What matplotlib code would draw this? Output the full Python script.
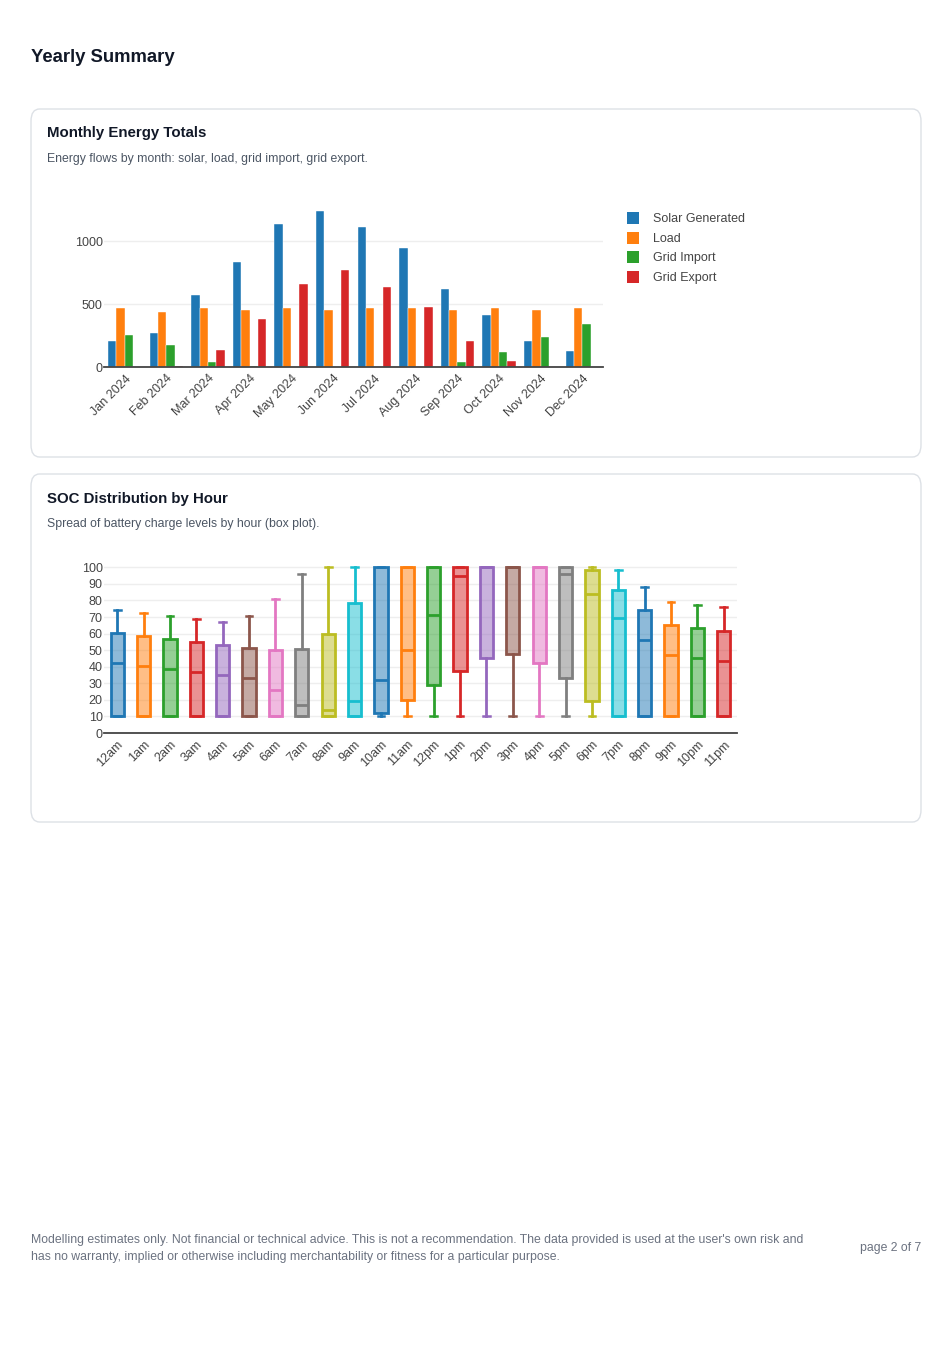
import matplotlib.pyplot as plt
from matplotlib.colors import to_rgb
from matplotlib.patches import FancyBboxPatch, Rectangle

plt.rcParams['font.family'] = ['Liberation Sans', 'DejaVu Sans']

# monthly energy totals
months = ["Jan 2024", "Feb 2024", "Mar 2024", "Apr 2024", "May 2024", "Jun 2024",
          "Jul 2024", "Aug 2024", "Sep 2024", "Oct 2024", "Nov 2024", "Dec 2024"]
solar = [209, 270, 569, 836, 1135, 1238, 1111, 947, 622, 410, 209, 124]
load = [468, 436, 468, 452, 468, 452, 468, 468, 452, 468, 452, 468]
grid_import = [254, 177, 42, 10, 0, 0, 0, 0, 37, 119, 241, 341]
grid_export = [0, 10, 135, 381, 656, 772, 635, 476, 204, 50, 0, 0]
series_names = ["Solar Generated", "Load", "Grid Import", "Grid Export"]

# SOC box stats per hour
hours = ["12am", "1am", "2am", "3am", "4am", "5am", "6am", "7am", "8am", "9am", "10am", "11am",
         "12pm", "1pm", "2pm", "3pm", "4pm", "5pm", "6pm", "7pm", "8pm", "9pm", "10pm", "11pm"]
soc_min = [10, 10, 10, 10, 10, 10, 10, 10, 10, 10, 10, 10,
           10, 10, 10, 10, 10, 10, 10, 10, 10, 10, 10, 10]
soc_q1 = [10, 10, 10, 10, 10, 10, 10, 10, 10, 10, 12.3, 19.8,
          28.9, 37.7, 45.5, 47.6, 42.5, 33.2, 19.2, 10, 10, 10, 10, 10]
soc_med = [42.1, 40.3, 38.5, 36.8, 35, 33.2, 25.9, 16.8, 13.8, 19.2, 32.2, 49.8,
           71.5, 94.5, 100, 100, 100, 95.7, 84, 69.6, 55.9, 47.2, 45.3, 43.7]
soc_q3 = [60.1, 58.3, 56.5, 54.9, 53.2, 51.6, 49.8, 50.8, 59.5, 78.7, 100, 100,
          100, 100, 100, 100, 100, 100, 98.2, 86.6, 74.1, 65.2, 63.6, 61.5]
soc_max = [74.3, 72.5, 70.6, 69, 67.2, 70.6, 80.8, 96.2, 100, 100, 100, 100,
           100, 100, 100, 100, 100, 100, 100, 98.2, 88, 79.1, 77.3, 75.9]

colors = ["#1f77b4", "#ff7f0e", "#2ca02c", "#d62728", "#9467bd",
          "#8c564b", "#e377c2", "#7f7f7f", "#bcbd22", "#17becf"]

W, H = 952, 1348
fig = plt.figure(figsize=(W / 100, H / 100), dpi=100)


def fx(x):
    return x / W


def fy(y):
    return 1 - y / H


def card(x0, y0, x1, y1, title, subtitle):
    box = FancyBboxPatch((fx(x0), fy(y1)), fx(x1 - x0), (y1 - y0) / H,
                         boxstyle="round,pad=0,rounding_size=0.009",
                         transform=fig.transFigure, facecolor="white",
                         edgecolor="#dde1e6", linewidth=1.0, zorder=-10)
    fig.add_artist(box)
    fig.text(fx(x0 + 16), fy(y0 + 24.5), title, fontsize=10.8, fontweight="bold",
             color="#111827", va="center")
    fig.text(fx(x0 + 16), fy(y0 + 50), subtitle, fontsize=8.8,
             color="#4b5563", va="center")


fig.text(fx(31), fy(58), "Yearly Summary", fontsize=13.3, fontweight="bold",
         color="#111827", va="center")

card(31, 109, 921, 457, "Monthly Energy Totals",
     "Energy flows by month: solar, load, grid import, grid export.")
card(31, 474, 921, 822, "SOC Distribution by Hour",
     "Spread of battery charge levels by hour (box plot).")


def style_axes(ax):
    ax.set_facecolor("none")
    for s in ["top", "right", "left"]:
        ax.spines[s].set_visible(False)
    ax.spines["bottom"].set_color("#444444")
    ax.spines["bottom"].set_linewidth(1.3)
    ax.tick_params(length=0, labelsize=9, colors="#444444", pad=4)
    ax.tick_params(axis="y", pad=1)
    ax.grid(axis="y", color="#eeeeee", linewidth=1)
    ax.set_axisbelow(True)


# bar chart
ax1 = fig.add_axes([fx(104), fy(367), fx(603 - 104), (367 - 203) / H])
style_axes(ax1)
x = list(range(len(months)))
all_series = [solar, load, grid_import, grid_export]
for i, vals in enumerate(all_series):
    offs = [xi - 0.3 + 0.2 * i for xi in x]
    ax1.bar(offs, vals, width=0.2, color=colors[i], edgecolor="white",
            linewidth=0.3, label=series_names[i])
ax1.set_xlim(-0.5, len(months) - 0.5)
ax1.set_ylim(0, 1303)
ax1.set_yticks([0, 500, 1000])
ax1.set_xticks(x)
ax1.set_xticklabels(months, rotation=45, ha="right", rotation_mode="anchor")

# legend drawn by hand so the rows sit where the reference has them
for i, name in enumerate(series_names):
    yc = 218 + 19.5 * i
    fig.add_artist(Rectangle((fx(627), fy(yc + 6)), fx(12), 12 / H,
                             transform=fig.transFigure, facecolor=colors[i],
                             edgecolor="none"))
    fig.text(fx(653), fy(yc + 1.5), name, fontsize=9, color="#444444", va="center")

# box plot
ax2 = fig.add_axes([fx(104), fy(733), fx(737 - 104), (733 - 564) / H])
style_axes(ax2)
stats = []
for i, h in enumerate(hours):
    stats.append({"label": h, "whislo": soc_min[i], "q1": soc_q1[i],
                  "med": soc_med[i], "q3": soc_q3[i], "whishi": soc_max[i]})
pos = list(range(len(hours)))
bp = ax2.bxp(stats, positions=pos, widths=0.5, capwidths=0.26,
             patch_artist=True, showfliers=False)
for i in range(len(hours)):
    c = colors[i % 10]
    bp["boxes"][i].set_facecolor((*to_rgb(c), 0.5))
    bp["boxes"][i].set_edgecolor(c)
    bp["boxes"][i].set_linewidth(2)
    bp["medians"][i].set_color(c)
    bp["medians"][i].set_linewidth(2)
    for w in bp["whiskers"][2 * i:2 * i + 2]:
        w.set_color(c)
        w.set_linewidth(2)
    for cp in bp["caps"][2 * i:2 * i + 2]:
        cp.set_color(c)
        cp.set_linewidth(1.8)
ax2.set_xlim(-0.5, len(hours) - 0.5)
ax2.set_ylim(0, 102)
ax2.set_yticks(range(0, 101, 10))
ax2.set_xticks(pos)
ax2.set_xticklabels(hours, rotation=45, ha="right", rotation_mode="anchor")

# footer
fig.text(fx(31), fy(1240), "Modelling estimates only. Not financial or technical advice. "
         "This is not a recommendation. The data provided is used at the user's own risk and",
         fontsize=8.8, color="#6b7280", va="center")
fig.text(fx(31), fy(1257), "has no warranty, implied or otherwise including merchantability "
         "or fitness for a particular purpose.",
         fontsize=8.8, color="#6b7280", va="center")
fig.text(fx(921), fy(1248), "page 2 of 7", fontsize=8.8, color="#6b7280",
         va="center", ha="right")

fig.savefig("out.png", dpi=100, facecolor="white")
